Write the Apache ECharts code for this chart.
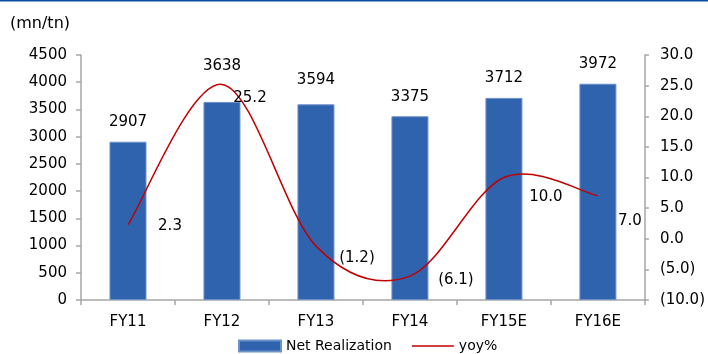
<!DOCTYPE html>
<html>
<head>
<meta charset="utf-8">
<script src="https://cdn.jsdelivr.net/npm/echarts@6/dist/echarts.min.js"></script>
<style>
  html, body { margin: 0; padding: 0; background: #fff; }
  #chart { width: 708px; height: 354px; }
</style>
</head>
<body>
<div id="chart"></div>
<script>
// Fiscal years
const categories = ['FY11', 'FY12', 'FY13', 'FY14', 'FY15E', 'FY16E'];
// Net realization, mn/tn
const netRealization = [2907, 3638, 3594, 3375, 3712, 3972];
// Year-on-year change, %
const yoy = [2.3, 25.2, -1.2, -6.1, 10.0, 7.0];

// Label placement tweaks (pixels)
const barLabelOffsets = [[0, 0], [0, -16], [0, -5], [0, 0], [0, 0], [0, 0]];
const yoyLabelOffsets = [[42, 1], [28, 14], [41, 12], [46, 4], [42, 20], [32, 25]];

const FONT = 'DejaVu Sans';
const RED = '#C00000';
const fmtPct = v => v < 0 ? '(' + Math.abs(v).toFixed(1) + ')' : v.toFixed(1);

// Smooth yoy curve: Catmull-Rom spline converted to cubic Bezier segments
function splinePath(pts) {
  let d = 'M' + pts[0][0] + ' ' + pts[0][1];
  for (let i = 0; i < pts.length - 1; i++) {
    const p0 = pts[Math.max(i - 1, 0)];
    const p1 = pts[i];
    const p2 = pts[i + 1];
    const p3 = pts[Math.min(i + 2, pts.length - 1)];
    const c1 = [p1[0] + (p2[0] - p0[0]) / 6, p1[1] + (p2[1] - p0[1]) / 6];
    const c2 = [p2[0] - (p3[0] - p1[0]) / 6, p2[1] - (p3[1] - p1[1]) / 6];
    d += ' C' + c1[0] + ' ' + c1[1] + ' ' + c2[0] + ' ' + c2[1] + ' ' + p2[0] + ' ' + p2[1];
  }
  return d;
}

function renderYoy(params, api) {
  const idx = params.dataIndex;
  const p = api.coord([api.value(0), api.value(1)]);
  const off = yoyLabelOffsets[idx];
  const children = [{
    type: 'text',
    x: p[0] + off[0],
    y: p[1] + off[1],
    style: {
      text: fmtPct(api.value(1)),
      font: '15px "' + FONT + '"',
      fill: '#000',
      align: 'center',
      verticalAlign: 'middle'
    },
    z2: 5
  }];
  if (idx === 0) {
    const pts = yoy.map((v, i) => api.coord([i, v]));
    children.unshift({
      type: 'path',
      shape: { pathData: splinePath(pts) },
      style: { fill: 'none', stroke: RED, lineWidth: 1.5 }
    });
  }
  return { type: 'group', children };
}

const axisLine = { show: true, lineStyle: { color: '#A6A6A6', width: 1.5 } };
const axisTick = len => ({ show: true, length: len, lineStyle: { color: '#A6A6A6', width: 1.5 } });

const chart = echarts.init(document.getElementById('chart'));
chart.setOption({
  animation: false,
  textStyle: { fontFamily: FONT, color: '#000' },
  graphic: [{
    type: 'rect', left: 0, top: 0,
    shape: { width: 708, height: 1.5 },
    style: { fill: '#0B4EA2' }
  }, {
    type: 'text', left: 10, top: 16,
    style: { text: '(mn/tn)', font: '16px "' + FONT + '"', fill: '#000' }
  }],
  grid: { left: 81, right: 62, top: 55, bottom: 54 },
  legend: {
    top: 339,
    left: 238,
    padding: 0,
    itemWidth: 42,
    itemHeight: 11,
    itemGap: 20,
    textStyle: { fontFamily: FONT, fontSize: 14, color: '#000' },
    data: [
      { name: 'Net Realization', icon: 'rect' },
      { name: 'yoy%', icon: 'path://M0 0H40V1.6H0Z', itemStyle: { color: RED } }
    ]
  },
  xAxis: {
    type: 'category',
    data: categories,
    axisLine,
    axisTick: axisTick(5),
    axisLabel: { fontFamily: FONT, fontSize: 15, color: '#000', margin: 15 }
  },
  yAxis: [{
    type: 'value',
    min: 0, max: 4500, interval: 500,
    splitLine: { show: false },
    axisLine,
    axisTick: axisTick(5),
    axisLabel: { fontFamily: FONT, fontSize: 15, color: '#000', margin: 14, formatter: v => String(v) }
  }, {
    type: 'value',
    min: -10, max: 30, interval: 5,
    splitLine: { show: false },
    axisLine,
    axisTick: axisTick(4),
    axisLabel: { fontFamily: FONT, fontSize: 15, color: '#000', margin: 15, formatter: fmtPct }
  }],
  series: [{
    name: 'Net Realization',
    type: 'bar',
    yAxisIndex: 0,
    barWidth: 37,
    itemStyle: { color: '#3063AE', borderColor: '#6B90CA', borderWidth: 1 },
    data: netRealization.map((v, i) => ({
      value: v,
      label: { offset: barLabelOffsets[i] }
    })),
    label: {
      show: true, position: 'top', distance: 12,
      fontFamily: FONT, fontSize: 15, color: '#000'
    },
    z: 2
  }, {
    name: 'yoy%',
    type: 'custom',
    yAxisIndex: 1,
    itemStyle: { color: RED },
    renderItem: renderYoy,
    encode: { x: 0, y: 1 },
    data: yoy.map((v, i) => [i, v]),
    z: 3
  }]
});
</script>
</body>
</html>
